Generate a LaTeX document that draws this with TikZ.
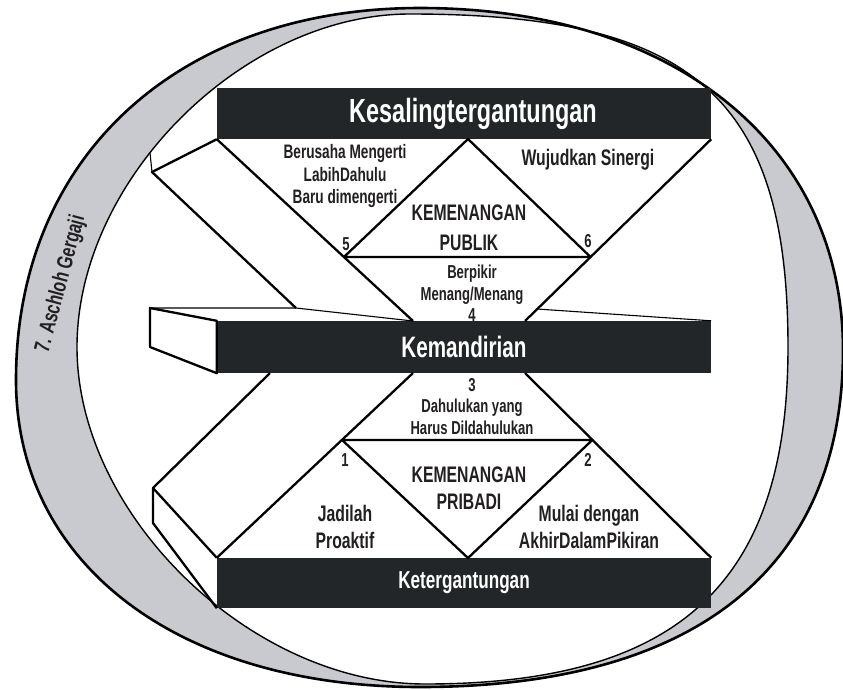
\documentclass[tikz,border=0pt]{standalone}
\usepackage{fontspec}
\setmainfont{Liberation Sans}[FakeStretch=0.7]
\newfontfamily\plainsans{Liberation Sans}
\usetikzlibrary{calc}

\definecolor{bardark}{HTML}{232629}
\definecolor{ringgray}{HTML}{C9CACF}
\definecolor{inkdark}{HTML}{231F20}

\newcommand{\fsz}[2]{\fontsize{#1}{#2}\selectfont}

\tikzset{
  bar/.style={fill=bardark, draw=none, text=white, minimum width=494pt, inner sep=0pt},
  lbl/.style={align=center, text=inkdark, inner sep=0pt},
  lblsmall/.style={lbl, font=\bfseries\fsz{18.7}{21.5}},
  lblmid/.style={lbl, font=\bfseries\fsz{19.5}{22.5}},
  lblbig/.style={lbl, font=\bfseries\fsz{22.5}{27}},
  slabline/.style={line width=2.3pt, line join=round},
  hairline/.style={line width=1.1pt},
}

\begin{document}
\begin{tikzpicture}[x=1pt, y=-1pt]
\useasboundingbox (0,0) rectangle (843,689);

\def\outerring{(420,8) .. controls (674,8) and (843,145) .. (843,350)
  .. controls (843,569) and (695,687) .. (420,687)
  .. controls (178,687) and (16,564) .. (16,380)
  .. controls (16,157) and (178,8) .. (420,8) -- cycle}
\def\innerring{(410,14) .. controls (693,14) and (788,97) .. (788,347)
  .. controls (788,583) and (679,684) .. (425,684)
  .. controls (251,684) and (77,515) .. (77,347)
  .. controls (77,180) and (243,14) .. (410,14) -- cycle}

% Gray ring round the whole picture
\path[fill=ringgray, even odd rule] \outerring \innerring;
\draw[line width=1.4pt] \innerring;
\draw[line width=2.6pt] \outerring;

% The three bars
\node[bar, minimum height=51pt, font=\bfseries\fsz{33.5}{40}] (interdep) at (464,113.5) {\hspace*{18pt}Kesalingtergantungan};
\node[bar, minimum height=52pt, font=\bfseries\fsz{29.5}{35}] (indep) at (464,347) {Kemandirian};
\node[bar, minimum height=50pt, font=\bfseries\fsz{24.5}{30}] (dep) at (464,583) {Ketergantungan};

\coordinate (TM) at (468,139);
\coordinate (ML) at (413,321);
\coordinate (MR) at (525,321);
\coordinate (NL) at (413,373);
\coordinate (NR) at (525,373);
\coordinate (BM) at (468,558);
\coordinate (P5) at ($(interdep.south west)!0.648!(ML)$);
\coordinate (P6) at ($(interdep.south east)!0.648!(MR)$);
\coordinate (P1) at ($(NL)!0.362!(dep.north west)$);
\coordinate (P2) at ($(NR)!0.362!(dep.north east)$);

% Slabs on the left
\coordinate (S1) at (152,172);
\coordinate (S1r) at (150,153);
\coordinate (S2) at (296,308);
\coordinate (F1) at (150,308);
\coordinate (F4) at (150,347);
\coordinate (R1) at (537,309);
\coordinate (L0) at (270,373);
\coordinate (L1) at (153,488);
\coordinate (L2) at (153,523);

\draw[slabline] (interdep.south west) -- (S1) -- (S2);
\draw[hairline] (S1) -- (S1r);
\draw[slabline, fill=white] (F1) -- (indep.north west) -- (indep.south west) -- (F4) -- cycle;
\draw[hairline] (F1) -- (S2) -- (ML);
\draw[hairline] (R1) -- (indep.north east);
\draw[slabline] (L0) -- (L1) -- (dep.north west);
\draw[slabline] (L1) -- (L2) -- (dep.south west);

% Diagonals and the two triangles
\draw[slabline] (interdep.south west) -- (ML);
\draw[slabline] (interdep.south east) -- (MR);
\draw[slabline] (P5) -- (TM) -- (P6) -- cycle;
\draw[slabline] (NL) -- (dep.north west);
\draw[slabline] (NR) -- (dep.north east);
\draw[slabline] (P1) -- (BM) -- (P2) -- cycle;

% Labels
\node[lblmid] (mengerti) at (345,176) {Berusaha Mengerti\\LabihDahulu\\Baru dimengerti};
\node[lblbig] (sinergi) at (588,160) {Wujudkan Sinergi};
\node[lblbig, font=\bfseries\fsz{22.5}{30}] (publik) at (469,228) {KEMENANGAN\\PUBLIK};
\node[lblsmall] (num5) at (346,244) {5};
\node[lblsmall] (num6) at (588,241) {6};
\node[lblsmall] (menang) at (472,293.5) {Berpikir\\Menang/Menang\\4};
\node[lblsmall] (dahulukan) at (472,406.5) {3\\Dahulukan yang\\Harus Dildahulukan};
\node[lblsmall] (num1) at (345,460) {1};
\node[lblsmall] (num2) at (588,460) {2};
\node[lblbig] (pribadi) at (469,488.5) {KEMENANGAN\\PRIBADI};
\node[lblbig] (proaktif) at (345,526.5) {Jadilah\\Proaktif};
\node[lblbig] (akhir) at (589,526.5) {Mulai dengan\\AkhirDalamPikiran};
\node[lbl, font=\plainsans\bfseries\fsz{22}{26}, rotate=75] (gergaji) at (61,284) {\scalebox{0.72}[1]{7. Aschloh Gergaji}};
\end{tikzpicture}
\end{document}
